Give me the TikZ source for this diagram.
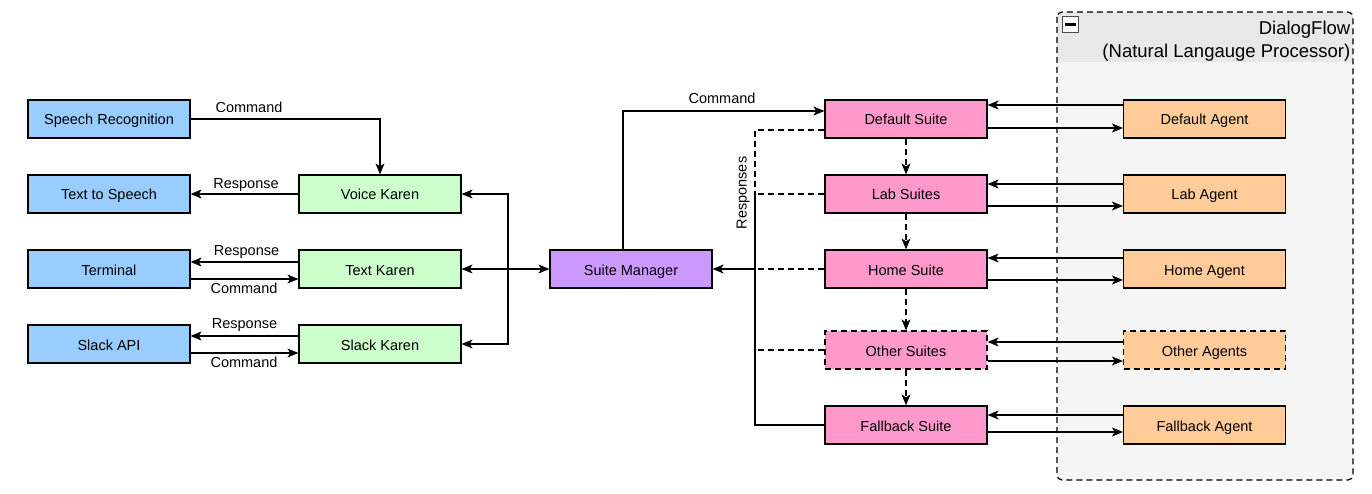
\documentclass[tikz,border=0pt]{standalone}
\usepackage{fontspec}
\setmainfont{Liberation Sans}
\usetikzlibrary{arrows.meta,calc}
\definecolor{cblue}{HTML}{99CCFF}
\definecolor{cgreen}{HTML}{CCFFCC}
\definecolor{cpurple}{HTML}{CC99FF}
\definecolor{cpink}{HTML}{FF99CC}
\definecolor{corange}{HTML}{FFCC99}
\definecolor{cbody}{HTML}{F5F5F5}
\definecolor{chead}{HTML}{E8E8E8}
\tikzset{
  box/.style={draw=black, line width=1.2pt, minimum width=162pt, minimum height=38pt, inner sep=0pt, text height=12pt, text depth=0pt, font=\fontsize{14.5}{17}\selectfont},
  bluebox/.style={box, fill=cblue},
  greenbox/.style={box, fill=cgreen},
  purplebox/.style={box, fill=cpurple},
  pinkbox/.style={box, fill=cpink},
  orangebox/.style={box, fill=corange},
  arr/.style={line width=1.2pt, -{Stealth[length=11pt,width=9pt,inset=3pt]}},
  barr/.style={line width=1.2pt, {Stealth[length=11pt,width=9pt,inset=3pt]}-{Stealth[length=11pt,width=9pt,inset=3pt]}},
  lbl/.style={inner sep=0pt, text height=11pt, text depth=0pt, font=\fontsize{14.5}{17}\selectfont},
  dsh/.style={dash pattern=on 6pt off 4pt},
}
\begin{document}
\begin{tikzpicture}[x=1pt,y=-1pt]
\useasboundingbox (0,0) rectangle (1372,494);
% DialogFlow container
\fill[cbody, rounded corners=5pt] (1057,12) rectangle (1353,480);
\begin{scope}
  \clip[rounded corners=5pt] (1057,12) rectangle (1353,480);
  \fill[chead] (1057,12) rectangle (1353,62);
\end{scope}
\draw[line width=1.2pt, dsh, rounded corners=5pt] (1057,12) rectangle (1353,480);
\node[draw=black!70, fill=white, line width=1pt, minimum size=16pt, inner sep=0pt] (minus) at (1070.5,24.5) {};
\draw[line width=2.5pt] ($(minus.center)+(-5.5,0)$) -- ($(minus.center)+(5.5,0)$);
\node[anchor=north east, align=right, inner sep=0pt, font=\fontsize{18.5}{23}\selectfont] (dfhead) at (1350.5,20.5) {DialogFlow\\(Natural Langauge Processor)};

% left column
\node[bluebox] (SR) at (109,119) {Speech Recognition};
\node[bluebox] (TTS) at (109,194) {Text to Speech};
\node[bluebox] (TERM) at (109,269) {Terminal};
\node[bluebox] (SLK) at (109,344) {Slack API};
% karens
\node[greenbox] (VK) at (380,194) {Voice Karen};
\node[greenbox] (TK) at (380,269) {Text Karen};
\node[greenbox] (SK) at (380,344) {Slack Karen};
% manager
\node[purplebox] (SM) at (631,269) {Suite Manager};
% suites
\node[pinkbox] (DS) at (906,119) {Default Suite};
\node[pinkbox] (LS) at (906,194) {Lab Suites};
\node[pinkbox] (HS) at (906,269) {Home Suite};
\node[pinkbox, dsh] (OS) at (906,350) {Other Suites};
\node[pinkbox] (FS) at (906,425) {Fallback Suite};
% agents
\node[orangebox] (DA) at (1204.5,119) {Default Agent};
\node[orangebox] (LA) at (1204.5,194) {Lab Agent};
\node[orangebox] (HA) at (1204.5,269) {Home Agent};
\node[orangebox, dsh] (OA) at (1204.5,350) {Other Agents};
\node[orangebox] (FA) at (1204.5,425) {Fallback Agent};

% left connectors
\draw[arr] (SR.east) -| (VK.north);
\node[lbl] (l1) at (249,107) {Command};
\draw[arr] (VK.west) -- (TTS.east);
\node[lbl] (l2) at (246,183) {Response};
\draw[arr] ([yshift=7pt]TK.west) -- ([yshift=7pt]TERM.east);
\node[lbl] (l3) at (246.5,250) {Response};
\draw[arr] ([yshift=-10pt]TERM.east) -- ([yshift=-10pt]TK.west);
\node[lbl] (l4) at (244,288) {Command};
\draw[arr] ([yshift=8pt]SK.west) -- ([yshift=8pt]SLK.east);
\node[lbl] (l5) at (244.5,323) {Response};
\draw[arr] ([yshift=-9pt]SLK.east) -- ([yshift=-9pt]SK.west);
\node[lbl] (l6) at (244,362) {Command};

% karen bus
\coordinate (bus) at (508,269);
\draw[barr] (TK.east) -- (SM.west);
\draw[arr] (bus) |- (VK.east);
\draw[arr] (bus) |- (SK.east);

% manager to default suite
\draw[arr] ([xshift=-8pt]SM.north) |- ([yshift=8pt]DS.west);
\node[lbl] (l7) at (722,98) {Command};

% responses
\coordinate (rbus) at (755,269);
\draw[line width=1.2pt, dsh] ([yshift=-11pt]DS.west) -| (rbus);
\draw[line width=1.2pt, dsh] (LS.west) -| (rbus);
\draw[line width=1.2pt, dsh] (HS.west) -- (rbus);
\draw[line width=1.2pt, dsh] (OS.west) -| (rbus);
\draw[arr] (FS.west) -| (rbus) -- (SM.east);
\node[lbl, rotate=90] (l8) at (741,193) {Responses};

% suite chain
\draw[arr, dsh] (DS.south) -- (LS.north);
\draw[arr, dsh] (LS.south) -- (HS.north);
\draw[arr, dsh] (HS.south) -- (OS.north);
\draw[arr, dsh] (OS.south) -- (FS.north);

% agents <-> suites
\draw[arr] ([yshift=14pt]DA.west) -- ([yshift=14pt]DS.east);
\draw[arr] ([yshift=-9pt]DS.east) -- ([yshift=-9pt]DA.west);
\draw[arr] ([yshift=10pt]LA.west) -- ([yshift=10pt]LS.east);
\draw[arr] ([yshift=-12pt]LS.east) -- ([yshift=-12pt]LA.west);
\draw[arr] ([yshift=11pt]HA.west) -- ([yshift=11pt]HS.east);
\draw[arr] ([yshift=-11pt]HS.east) -- ([yshift=-11pt]HA.west);
\draw[arr] ([yshift=8pt]OA.west) -- ([yshift=8pt]OS.east);
\draw[arr] ([yshift=-11pt]OS.east) -- ([yshift=-11pt]OA.west);
\draw[arr] ([yshift=10pt]FA.west) -- ([yshift=10pt]FS.east);
\draw[arr] ([yshift=-7pt]FS.east) -- ([yshift=-7pt]FA.west);
\end{tikzpicture}
\end{document}
